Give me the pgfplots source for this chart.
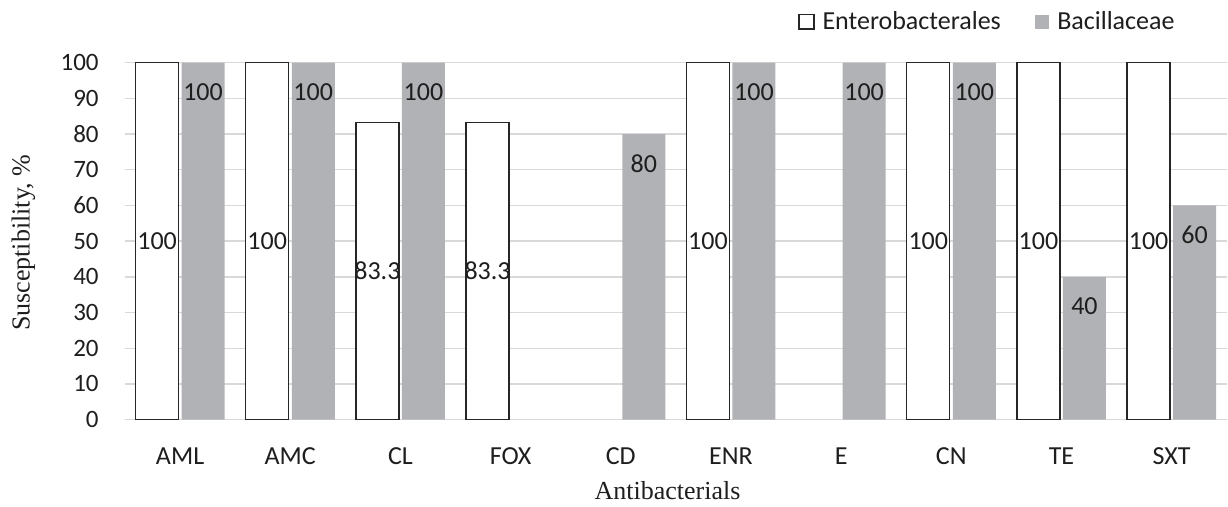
\documentclass[border=0pt]{standalone}
\usepackage{pgfplots}
\pgfplotsset{compat=1.18}
\usepackage{fontspec}
\setmainfont{Carlito}
\newfontfamily\tnr{Liberation Serif}
\definecolor{bacgray}{RGB}{177,178,182}
\definecolor{gridgray}{RGB}{217,217,217}
\definecolor{txt}{RGB}{30,30,30}
\begin{document}
\begin{tikzpicture}
\begin{axis}[
    name=ax,
    scale only axis,
    width=550.85pt, height=178.45pt,
    xmin=-0.5, xmax=9.5,
    ymin=0, ymax=100,
    ytick={0,10,...,100},
    xtick={0,...,9},
    xticklabels={AML,AMC,CL,FOX,CD,ENR,E,CN,TE,SXT},
    /pgf/number format/assume math mode=true,
    axis line style={draw=none},
    tick style={draw=none},
    ymajorgrids,
    major grid style={gridgray, line width=0.7pt},
    font=\fontsize{13}{15}\selectfont,
    text=txt,
    xticklabel style={anchor=north, inner sep=0pt, yshift=-9.5pt},
    yticklabel style={anchor=east, inner sep=0pt, xshift=-13pt, font=\fontsize{12.5}{15}\selectfont},
    xlabel={\tnr Antibacterials},
    ylabel={\tnr Susceptibility, \%},
    xlabel style={at={(axis description cs:0.4924,0)}, anchor=base, yshift=-40.2pt},
    ylabel style={at={(axis description cs:-0.0866,0.495)}, anchor=base},
    ybar, bar width=21.5pt,
    nodes near coords,
    legend columns=2,
    legend style={at={(axis description cs:0.953,1)}, anchor=south east, yshift=15pt,
        draw=none, fill=none, inner sep=0pt, nodes={inner sep=0pt},
        /tikz/every odd column/.append style={column sep=4pt},
        /tikz/every even column/.append style={column sep=17pt}},
    legend image code/.code={\path[#1, line width=0.9pt] (0pt,-3.6pt) rectangle (7.2pt,3.6pt);},
]
\addplot[bar shift=-11.5pt, fill=white, draw=black!85, line width=0.7pt,
    visualization depends on={rawy \as \rawy},
    every node near coord/.append style={anchor=center, inner sep=0pt, yshift={-0.89225pt*\rawy}}]
    coordinates {(0,100) (1,100) (2,83.3) (3,83.3) (5,100) (7,100) (8,100) (9,100)};
\addlegendentry{Enterobacterales}
\addplot[bar shift=11.5pt, fill=bacgray, draw=none,
    every node near coord/.append style={anchor=center, inner sep=0pt, yshift=-14.75pt}]
    coordinates {(0,100) (1,100) (2,100) (4,80) (5,100) (6,100) (7,100) (8,40) (9,60)};
\addlegendentry{Bacillaceae}
\end{axis}
\pgfresetboundingbox
\path (ax.south west) ++(-62.5pt,-43.7pt) coordinate (bl);
\path (ax.north east) ++(0.65pt,31.35pt) coordinate (tr);
\path[use as bounding box] (bl) rectangle (tr);
\end{tikzpicture}
\end{document}
